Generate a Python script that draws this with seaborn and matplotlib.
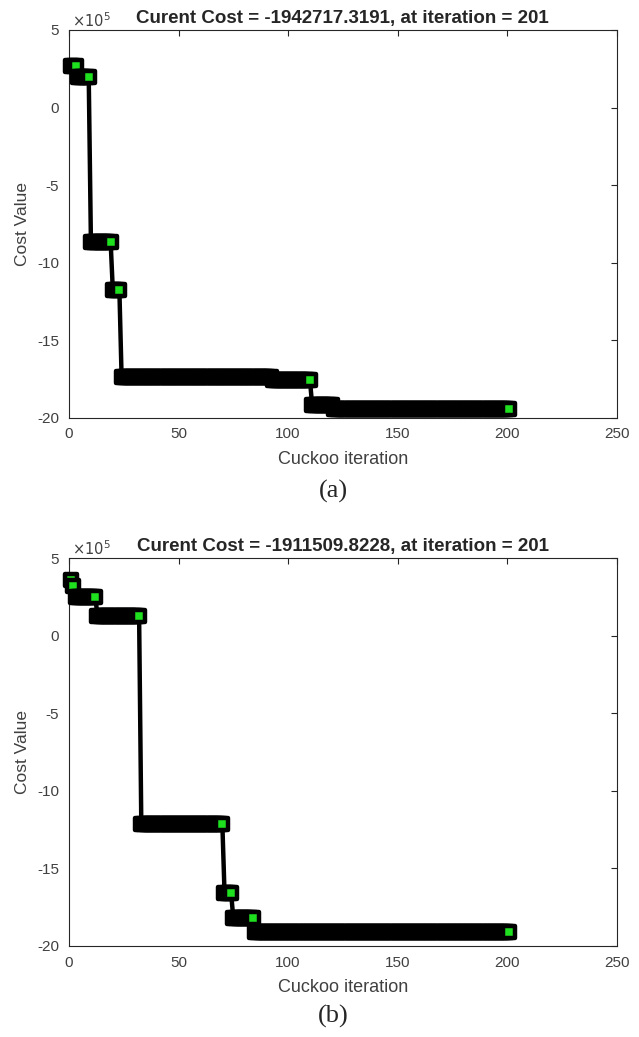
import numpy as np
import pandas as pd
import matplotlib
matplotlib.use("Agg")
import matplotlib.pyplot as plt
import seaborn as sns

# cost values in units of 1e5, given as plateaus (first iteration of each level, level)
a_starts = [1, 4, 10, 20, 24, 93, 111, 121]
a_levels = [2.66, 1.97, -8.66, -11.78, -17.35, -17.59, -19.20, -19.427173191]
b_starts = [1, 2, 3, 13, 33, 71, 75, 85]
b_levels = [3.57, 3.22, 2.52, 1.27, -12.13, -16.60, -18.20, -19.115098228]
n_iter = 201
titles = ["Curent Cost = -1942717.3191, at iteration = 201",
          "Curent Cost = -1911509.8228, at iteration = 201"]
captions = ["(a)", "(b)"]
x_ticks = [0, 50, 100, 150, 200, 250]
y_ticks = [-20, -15, -10, -5, 0, 5]

sns.set_style("white")
plt.rcParams['font.family'] = ['Liberation Sans', 'DejaVu Sans']
plt.rcParams['axes.unicode_minus'] = False


def expand(starts, levels):
    it = np.arange(1, n_iter + 1)
    idx = np.searchsorted(starts, it, side="right") - 1
    cost = np.array(levels)[idx]
    # green shows where the best cost is about to change (and at the end)
    last = np.append(np.diff(cost) != 0, True)
    return pd.DataFrame({"iteration": it, "cost": cost, "last": last})


def draw_panel(ax, df, title):
    sns.lineplot(data=df, x="iteration", y="cost", color="black", lw=3.2, ax=ax)
    sns.scatterplot(data=df, x="iteration", y="cost", hue="last",
                    palette={False: "black", True: "#1fe01f"}, marker="s",
                    s=76, edgecolor="black", linewidth=3.2, legend=False,
                    ax=ax, zorder=3, clip_on=False)
    for coll in ax.collections:
        coll.set_joinstyle("round")
    ax.set_xlim(0, 250)
    ax.set_ylim(-20, 5)
    ax.set_xticks(x_ticks)
    ax.set_yticks(y_ticks)
    ax.tick_params(direction="in", top=True, right=True, length=4, width=0.8,
                   colors="#262626", labelcolor="#404040", labelsize=11, pad=7)
    for sp in ax.spines.values():
        sp.set_color("#262626")
        sp.set_linewidth(0.8)
    ax.set_xlabel("Cuckoo iteration", fontsize=13, color="#404040", labelpad=7)
    ax.set_ylabel("Cost Value", fontsize=12.5, color="#404040", labelpad=5)
    ax.set_title(title, fontsize=13.5, fontweight="bold", pad=5)
    ax.text(0.005, 1.0, r"$\times10^5$", transform=ax.transAxes, fontsize=10.5,
            color="#404040", va="bottom", ha="left")


fig = plt.figure(figsize=(6.39, 10.37), dpi=100)
ax1 = fig.add_axes([0.108, 0.5972, 0.857, 0.3739])
ax2 = fig.add_axes([0.108, 0.0878, 0.857, 0.3739])

draw_panel(ax1, expand(a_starts, a_levels), titles[0])
draw_panel(ax2, expand(b_starts, b_levels), titles[1])

fig.text(333 / 639, 1 - 491 / 1037, captions[0], family="Liberation Serif",
         fontsize=19, ha="center", va="center")
fig.text(333 / 639, 1 - 1016 / 1037, captions[1], family="Liberation Serif",
         fontsize=19, ha="center", va="center")

fig.savefig("out.png", dpi=100)
